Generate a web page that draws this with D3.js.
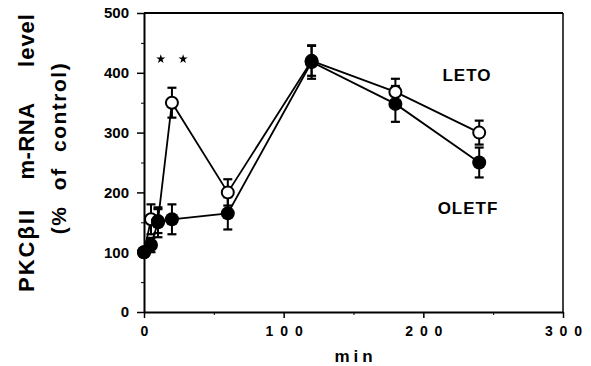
<!DOCTYPE html>
<html><head><meta charset="utf-8">
<script src="https://cdn.jsdelivr.net/npm/d3@7"></script>
<style>
html,body{margin:0;padding:0;background:#fff;}
svg{display:block;font-family:"Liberation Sans",Arial,Helvetica,sans-serif;}
</style></head>
<body><svg id="c" width="591" height="366"></svg>
<script>
const times = [0, 5, 10, 20, 60, 120, 180, 240];
const letoValues = [100, 155, 152, 350, 200, 420, 368, 300];
const letoErr = [0, 25, 20, 25, 22, 25, 22, 20];
const oletfValues = [100, 112, 150, 155, 165, 418, 348, 250];
const oletfErr = [0, 12, 25, 25, 27, 28, 30, 25];
const xTicks = [0, 100, 200, 300];
const xMinor = [50, 150, 250];
const yTicks = [0, 100, 200, 300, 400, 500];
const yMinor = [50, 150, 250, 350, 450];
const starTimes = [12, 28];
const starLevel = 423;
const yTitleWords = ["PKCβII", "m-RNA", "level"];

const svg = d3.select("#c");
const x = d3.scaleLinear().domain([0, 300]).range([144, 563]);
const y = d3.scaleLinear().domain([0, 500]).range([312, 13]);

// frame
svg.append("line").attr("x1", x(0)).attr("x2", x(300)).attr("y1", y(500)).attr("y2", y(500)).attr("stroke", "#000").attr("stroke-width", 2);
svg.append("line").attr("x1", x(300)).attr("x2", x(300)).attr("y1", y(500)).attr("y2", y(0)).attr("stroke", "#000").attr("stroke-width", 1.5);

// axes
const gx = svg.append("g").attr("transform", `translate(0,${y(0)})`)
  .call(d3.axisBottom(x).tickValues(xTicks).tickSize(6).tickSizeOuter(0).tickFormat(d => String(d).split("").join(" ")));
gx.select(".domain").attr("stroke-width", 2);
gx.selectAll(".tick line").attr("stroke-width", 1.5);
gx.selectAll(".tick text").attr("font-size", 14).attr("font-weight", "bold").attr("letter-spacing", 1.5)
  .attr("dx", 0.75).attr("y", 14).attr("dy", "0.71em").attr("fill", "#000");
svg.append("g").attr("transform", `translate(0,${y(0)})`)
  .call(d3.axisBottom(x).tickValues(xMinor).tickSize(3).tickFormat(""))
  .call(g => g.select(".domain").remove());

const gy = svg.append("g").attr("transform", `translate(${x(0)},0)`)
  .call(d3.axisLeft(y).tickValues(yTicks).tickSize(7).tickSizeOuter(0));
gy.select(".domain").attr("stroke-width", 2);
gy.selectAll(".tick line").attr("stroke-width", 1.5);
gy.selectAll(".tick text").attr("font-size", 15).attr("font-weight", "bold").attr("x", -15).attr("fill", "#000");
svg.append("g").attr("transform", `translate(${x(0)},0)`)
  .call(d3.axisLeft(y).tickValues(yMinor).tickSize(3).tickFormat(""))
  .call(g => g.select(".domain").remove());

// axis titles
svg.append("text").attr("x", x(150) + 2).attr("y", 362).attr("text-anchor", "middle")
  .attr("font-size", 17).attr("font-weight", "bold").attr("letter-spacing", 4).text("min");
const wordCenters = [250, 141, 40];
const wordSpacing = [2, 0.5, 1];
yTitleWords.forEach((w, i) => {
  svg.append("text").attr("transform", `translate(34,${wordCenters[i]}) rotate(-90)`).attr("text-anchor", "middle")
    .attr("font-size", 22).attr("font-weight", "bold").attr("letter-spacing", wordSpacing[i]).text(w);
});
svg.append("text").attr("transform", "translate(66,148) rotate(-90)").attr("text-anchor", "middle")
  .attr("font-size", 21).attr("font-weight", "bold").attr("letter-spacing", 1.5).attr("word-spacing", 8)
  .text("(% of control)");

function series(vals, errs) {
  const pts = times.map((t, i) => ({t, v: vals[i], e: errs[i]}));
  const line = d3.line().x(d => x(d.t)).y(d => y(d.v));
  svg.append("path").datum(pts).attr("d", line).attr("fill", "none").attr("stroke", "#000").attr("stroke-width", 1.8);
  const eb = svg.append("g");
  pts.filter(d => d.e > 0).forEach(d => {
    eb.append("line").attr("x1", x(d.t)).attr("x2", x(d.t)).attr("y1", y(d.v - d.e)).attr("y2", y(d.v + d.e)).attr("stroke", "#000").attr("stroke-width", 2);
    [d.v - d.e, d.v + d.e].forEach(v => eb.append("line").attr("x1", x(d.t) - 4.5).attr("x2", x(d.t) + 4.5).attr("y1", y(v)).attr("y2", y(v)).attr("stroke", "#000").attr("stroke-width", 2.2));
  });
  return pts;
}
const lp = series(letoValues, letoErr);
const op = series(oletfValues, oletfErr);
svg.append("g").selectAll("circle").data(lp).join("circle")
  .attr("cx", d => x(d.t)).attr("cy", d => y(d.v)).attr("r", 6)
  .attr("fill", "#fff").attr("stroke", "#000").attr("stroke-width", 2);
svg.append("g").selectAll("circle").data(op).join("circle")
  .attr("cx", d => x(d.t)).attr("cy", d => y(d.v)).attr("r", 7).attr("fill", "#000");

// significance stars
svg.append("g").selectAll("path").data(starTimes).join("path")
  .attr("transform", t => `translate(${x(t)},${y(starLevel)})`)
  .attr("d", d3.symbol(d3.symbolStar, 26)).attr("fill", "#000");

// series labels
svg.append("text").attr("x", 467).attr("y", 81).attr("text-anchor", "middle")
  .attr("font-size", 17).attr("font-weight", "bold").attr("letter-spacing", 1).text("LETO");
svg.append("text").attr("x", 468).attr("y", 214).attr("text-anchor", "middle")
  .attr("font-size", 17).attr("font-weight", "bold").attr("letter-spacing", 1).text("OLETF");
</script></body></html>
